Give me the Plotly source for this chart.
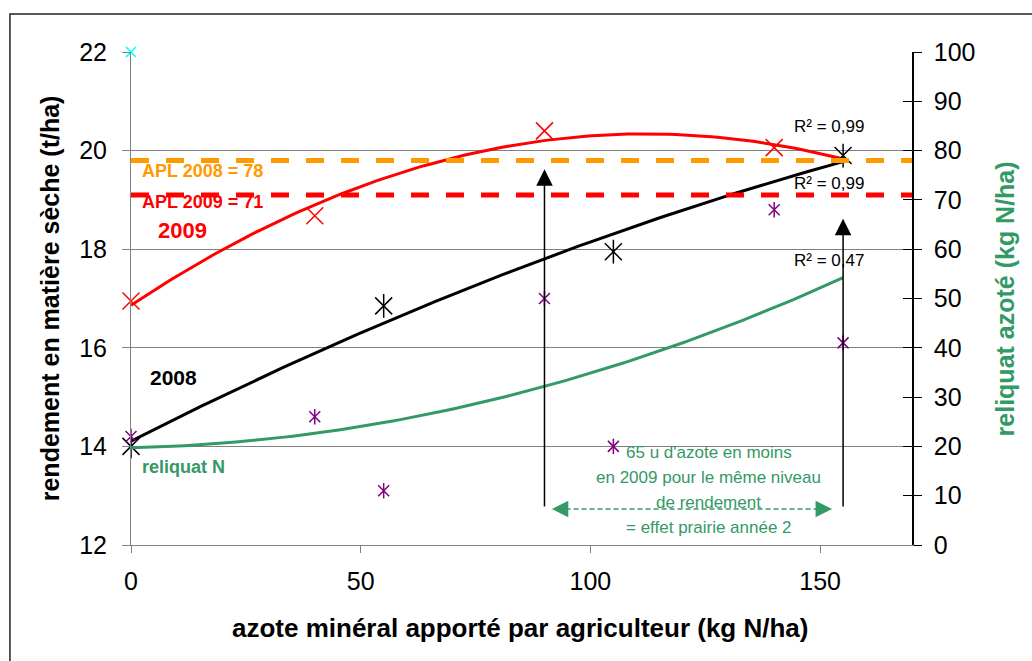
import numpy as np
import plotly.graph_objects as go

# Rendement (t MS/ha) selon la dose d'azote minéral apportée
dose_2009 = [0, 40, 90, 140]
rdt_2009 = [16.95, 18.68, 20.4, 20.06]

dose_2008 = [0, 55, 105, 155]
rdt_2008 = [14.0, 16.85, 17.95, 19.9]

# Reliquat azoté (kg N/ha), axe de droite
dose_reliquat = [0, 40, 55, 90, 105, 140, 155]
reliquat = [22, 26, 11, 50, 20, 68, 41]

# Point repère en haut de l'axe
dose_repere = [0]
rdt_repere = [22]

# Azote potentiellement lessivable (kg N/ha)
apl_2008 = 78
apl_2009 = 71

# Doses comparées par les flèches (kg N/ha)
dose_fleche_2009 = 90
dose_fleche_2008 = 155

X_RANGE = [0, 170]
Y_RANGE = [12, 22]
Y2_RANGE = [0, 100]

FONT = "Liberation Sans, Arial, sans-serif"
GREEN = "#339966"
RED = "#FF0000"
ORANGE = "#FF9900"
PURPLE = "#800080"


def trend(x, y, xmax, deg=2):
    """Courbe de tendance polynomiale (moindres carrés) sur [0, xmax]."""
    coef = np.polyfit(x, y, deg)
    xs = np.linspace(0, xmax, 120)
    return xs, np.polyval(coef, xs)


fig = go.Figure()

# Courbes de tendance
for xs_src, ys_src, color, axis in [
    (dose_2009, rdt_2009, RED, "y"),
    (dose_2008, rdt_2008, "black", "y"),
    (dose_reliquat, reliquat, GREEN, "y2"),
]:
    tx, ty = trend(xs_src, ys_src, 155)
    fig.add_trace(go.Scatter(x=tx, y=ty, mode="lines", yaxis=axis,
                             line=dict(color=color, width=3),
                             hoverinfo="skip", showlegend=False))

# Seuils APL (axe de droite)
fig.add_trace(go.Scatter(x=X_RANGE, y=[apl_2008, apl_2008], yaxis="y2", mode="lines",
                         line=dict(color=ORANGE, width=5, dash="18px,17px"),
                         showlegend=False, hoverinfo="skip"))
fig.add_trace(go.Scatter(x=X_RANGE, y=[apl_2009, apl_2009], yaxis="y2", mode="lines",
                         line=dict(color=RED, width=5, dash="18px,17px"),
                         showlegend=False, hoverinfo="skip"))

# Points mesurés
fig.add_trace(go.Scatter(x=dose_2009, y=rdt_2009, mode="markers", cliponaxis=False,
                         marker=dict(symbol="x-thin", size=17,
                                     line=dict(color=RED, width=1.5)),
                         name="2009", showlegend=False))
for sym in ("x-thin", "line-ns"):
    fig.add_trace(go.Scatter(x=dose_2008, y=rdt_2008, mode="markers", cliponaxis=False,
                             marker=dict(symbol=sym, size=17,
                                         line=dict(color="black", width=1.5)),
                             name="2008", showlegend=False))
    fig.add_trace(go.Scatter(x=dose_reliquat, y=reliquat, yaxis="y2", mode="markers",
                             cliponaxis=False,
                             marker=dict(symbol=sym, size=11,
                                         line=dict(color=PURPLE, width=1.5)),
                             name="reliquat N", showlegend=False))
fig.add_trace(go.Scatter(x=dose_repere, y=rdt_repere, mode="markers", cliponaxis=False,
                         marker=dict(symbol="x-thin", size=10,
                                     line=dict(color="#00FFFF", width=1.5)),
                         showlegend=False, hoverinfo="skip"))

# Flèche double pointillée verte : écart de dose entre les deux années
arrow_y = 12.73
left_tip, right_tip = 91.6, 152.6
fig.add_trace(go.Scatter(x=[left_tip + 3, right_tip - 3], y=[arrow_y, arrow_y], mode="lines",
                         line=dict(color=GREEN, width=1.5, dash="5px,3px"),
                         showlegend=False, hoverinfo="skip"))

annotations = []
for tip, off in ((left_tip, 16), (right_tip, -16)):
    annotations.append(dict(x=tip, y=arrow_y, xref="x", yref="y", text="",
                            ax=off, ay=0, showarrow=True, arrowhead=2,
                            arrowsize=2.2, arrowwidth=1.5, arrowcolor=GREEN,
                            standoff=0))

# Flèches verticales noires
arrow_base = 12.75
for xv, tip_y in ((dose_fleche_2009, 19.62), (dose_fleche_2008, 18.62)):
    annotations.append(dict(x=xv, y=tip_y, xref="x", yref="y", text="",
                            ax=xv, ay=arrow_base, axref="x", ayref="y",
                            showarrow=True, arrowhead=2, arrowsize=2.2,
                            arrowwidth=1.5, arrowcolor="black", standoff=0))


def label(x, y, text, color="black", size=16, bold=False, xanchor="left"):
    annotations.append(dict(x=x, y=y, xref="x", yref="y", showarrow=False,
                            text=f"<b>{text}</b>" if bold else text,
                            xanchor=xanchor, yanchor="middle",
                            font=dict(family=FONT, size=size, color=color)))


label(2.0, 19.58, f"APL 2008 = {apl_2008}", ORANGE, 18, True)
label(2.0, 18.96, f"APL 2009 = {apl_2009}", RED, 18, True)
label(5.5, 18.37, "2009", RED, 22, True)
label(3.8, 15.39, "2008", "black", 21, True)
label(2.0, 13.58, "reliquat N", GREEN, 18, True)

label(143.8, 20.48, "R² = 0,99", "black", 17)
label(143.8, 19.34, "R² = 0,99", "black", 17)
label(143.8, 17.78, "R² = 0,47", "black", 17)

box_lines = ["65 u d'azote en moins", "en 2009 pour le même niveau",
             "de rendement", "= effet prairie année 2"]
for i, line in enumerate(box_lines):
    label(125.8, 13.87 - 0.503 * i, line, GREEN, 17, xanchor="center")

# Titres des axes
annotations += [
    dict(x=-0.104, y=0.5, xref="paper", yref="paper", showarrow=False, textangle=-90,
         xanchor="center", yanchor="middle",
         text="<b>rendement en matière sèche (t/ha)</b>",
         font=dict(family=FONT, size=25, color="black")),
    dict(x=1.119, y=0.5, xref="paper", yref="paper", showarrow=False, textangle=-90,
         xanchor="center", yanchor="middle",
         text="<b>reliquat azoté (kg N/ha)</b>",
         font=dict(family=FONT, size=25, color=GREEN)),
    dict(x=0.498, y=-0.168, xref="paper", yref="paper", showarrow=False,
         xanchor="center", yanchor="middle",
         text="<b>azote minéral apporté par agriculteur (kg N/ha)</b>",
         font=dict(family=FONT, size=26, color="black")),
]

tickfont = dict(family=FONT, size=25, color="black")

fig.update_layout(
    width=1032, height=661,
    margin=dict(l=131, r=120, t=52, b=116),
    paper_bgcolor="white", plot_bgcolor="white",
    font=dict(family=FONT),
    showlegend=False,
    xaxis=dict(range=X_RANGE, tickvals=[0, 50, 100, 150], showgrid=False,
               zeroline=False, showline=True, linecolor="#808080", linewidth=1,
               ticks="outside", ticklen=7, tickcolor="#808080",
               tickfont=tickfont, ticklabelstandoff=7),
    yaxis=dict(range=Y_RANGE, dtick=2, showgrid=True, gridcolor="#808080",
               gridwidth=1, zeroline=False, showline=True, linecolor="#808080",
               linewidth=1, ticks="outside", ticklen=8, tickcolor="#808080",
               tickfont=tickfont, ticklabelstandoff=10),
    yaxis2=dict(range=Y2_RANGE, dtick=10, overlaying="y", side="right",
                showgrid=False, zeroline=False, showline=True, linecolor="black",
                linewidth=1.5, ticks="outside", ticklen=8, tickcolor="black",
                tickfont=tickfont, ticklabelstandoff=7),
    yaxis3=dict(range=Y2_RANGE, dtick=10, overlaying="y", side="right", anchor="x",
                showgrid=False, zeroline=False, showline=False, ticks="inside",
                ticklen=9, tickcolor="black", showticklabels=False),
    annotations=annotations,
    shapes=[dict(type="rect", xref="paper", yref="paper",
                 x0=-0.155, x1=1.17, y0=-0.3, y1=1.077,
                 line=dict(color="#222222", width=1.5), layer="below")],
)

# Trace invisible pour afficher l'axe yaxis3 (graduations intérieures)
fig.add_trace(go.Scatter(x=[None], y=[None], yaxis="y3", showlegend=False, hoverinfo="skip"))

fig.write_html("out.html")
